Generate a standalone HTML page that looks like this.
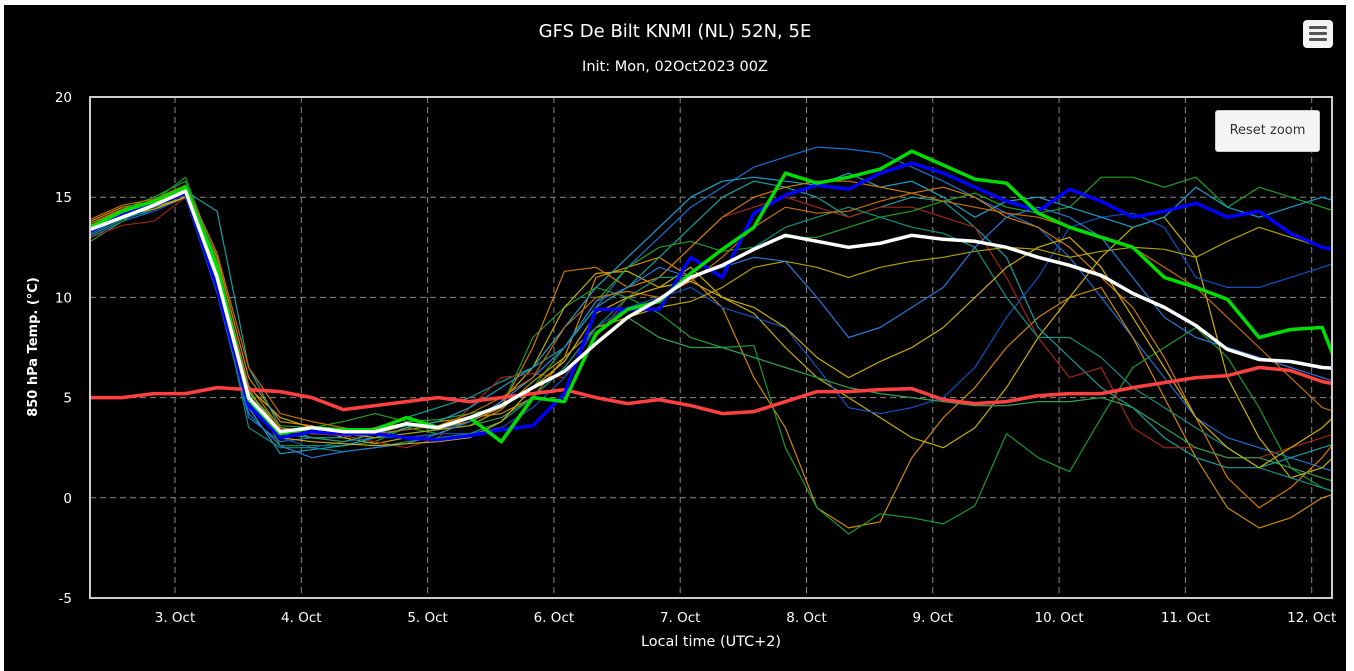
<!DOCTYPE html>
<html><head><meta charset="utf-8"><style>
body{margin:0;width:1354px;height:671px;background:#fff;overflow:hidden;font-family:"DejaVu Sans","Liberation Sans",sans-serif}
#wrap{position:absolute;left:4px;top:5px;width:1342px;height:666px;background:#000}
#menu{position:absolute;left:1303px;top:20px;width:30px;height:28px;background:#f4f4f4;border-radius:4px}
#menu i{position:absolute;left:6px;width:18px;height:3px;background:#555;border-radius:1px}
#reset{position:absolute;left:1215px;top:110px;width:105px;height:42px;background:#f4f4f4;border:1px solid #ccc;border-radius:3px;font-size:13px;color:#333;text-align:center;line-height:40px;box-sizing:border-box}
</style></head><body>
<div id="wrap"></div>
<svg id="svg" width="1354" height="671" style="position:absolute;left:0;top:0"></svg>
<div id="menu"><i style="top:6px"></i><i style="top:12px"></i><i style="top:18px"></i></div>
<div id="reset">Reset zoom</div>
<script>
const xTicks=["3. Oct","4. Oct","5. Oct","6. Oct","7. Oct","8. Oct","9. Oct","10. Oct","11. Oct","12. Oct"];
const yTicks=[-5,0,5,10,15,20];
const startHour=8, stepHours=6;
const meanSeries=[13.4,14.0,14.6,15.3,11.0,5.0,3.3,3.5,3.3,3.3,3.7,3.5,4.0,4.6,5.5,6.3,7.7,9.0,9.9,11.0,11.6,12.4,13.1,12.8,12.5,12.7,13.1,12.9,12.8,12.5,12.0,11.6,11.1,10.2,9.5,8.6,7.4,6.9,6.8,6.5,6.4];
const controlSeries=[13.5,14.3,14.8,15.5,11.5,4.9,3.2,3.5,3.4,3.4,4.0,3.5,4.0,2.8,5.0,4.8,8.2,9.4,9.8,11.2,12.4,13.5,16.2,15.7,16.0,16.4,17.3,16.6,15.9,15.7,14.2,13.5,13.0,12.5,11.0,10.5,9.9,8.0,8.4,8.5,4.5];
const operSeries=[13.3,14.2,14.6,15.2,10.5,4.6,3.0,3.3,3.2,3.2,3.0,2.9,3.1,3.4,3.6,5.2,9.4,9.4,9.4,12.0,11.0,14.2,15.1,15.6,15.4,16.2,16.7,16.2,15.5,14.8,14.3,15.4,14.8,14.0,14.3,14.7,14.0,14.3,13.2,12.5,12.2];
const climSeries=[5.0,5.0,5.2,5.2,5.5,5.4,5.3,5.0,4.4,4.6,4.8,5.0,4.8,5.0,5.2,5.4,5.0,4.7,4.9,4.6,4.2,4.3,4.8,5.3,5.3,5.4,5.45,4.9,4.7,4.8,5.1,5.2,5.2,5.5,5.75,6.0,6.1,6.5,6.35,5.8,5.5];
const m1=[13.0,13.8,14.3,15.0,10.2,4.0,2.8,3.0,2.8,3.0,3.2,3.4,3.8,4.8,6.0,7.5,9.5,11.5,13.0,14.5,15.5,16.5,17.0,17.5,17.4,17.2,16.5,15.8,15.0,14.2,13.5,12.0,10.0,8.0,6.0,4.0,3.0,2.5,2.0,1.5,1.0];
const m2=[13.8,14.5,14.8,15.5,12.0,6.0,3.8,3.6,3.2,3.0,3.5,3.8,4.0,4.2,5.0,7.0,11.0,11.5,12.0,11.0,9.5,6.0,3.5,-0.5,-1.5,-1.2,2.0,4.0,5.5,7.5,9.0,10.0,10.5,8.0,5.0,2.0,-0.5,-1.5,-1.0,0.0,0.5];
const m3=[12.8,13.8,14.8,16.0,11.8,5.5,2.6,2.6,2.6,2.8,3.5,3.2,3.8,4.5,8.0,9.5,10.5,10.0,9.2,8.0,7.5,7.6,2.5,-0.5,-1.8,-0.8,-1.0,-1.3,-0.4,3.2,2.0,1.3,4.0,6.5,7.5,8.5,7.0,4.5,1.5,0.5,0.0];
const m4=[13.5,14.2,14.5,15.0,11.5,5.5,4.0,3.5,3.0,2.7,3.0,3.2,3.8,4.8,6.5,9.5,11.2,11.3,10.5,11.5,10.0,9.2,7.5,6.0,5.0,4.0,3.0,2.5,3.5,5.5,8.0,10.0,12.0,13.5,14.0,12.0,6.0,3.0,1.0,1.5,3.0];
const m5=[13.2,14.0,14.5,15.3,14.3,6.5,3.5,3.0,3.0,3.5,4.0,4.5,5.0,5.8,6.5,7.5,9.5,10.5,12.0,13.5,15.0,15.8,15.5,15.0,14.0,14.5,15.0,14.8,13.5,12.0,8.5,7.0,5.5,4.5,3.0,2.0,1.5,1.5,2.0,2.5,3.0];
const m6=[13.0,13.6,13.8,15.0,11.0,5.0,3.3,3.2,3.1,2.8,2.5,3.0,4.5,6.0,6.2,6.0,8.0,10.0,11.0,12.5,14.0,14.5,15.0,14.5,14.0,14.5,14.5,14.0,13.5,11.0,8.0,6.0,6.5,3.5,2.5,2.5,2.0,2.0,2.5,3.0,3.5];
const m7=[13.4,14.0,14.3,15.0,10.8,4.8,3.0,2.5,2.8,3.0,3.0,3.2,3.2,3.5,4.5,6.0,8.5,9.5,10.0,10.5,9.5,9.0,8.5,6.5,4.5,4.2,4.5,5.0,6.5,9.0,11.0,13.5,14.0,14.2,13.5,11.0,10.5,10.5,11.0,11.5,12.0];
const m8=[13.6,14.4,15.0,15.8,11.7,5.2,3.6,3.5,3.8,4.2,3.8,3.9,4.2,4.5,5.5,7.5,9.8,11.5,12.5,12.8,12.3,12.5,13.0,13.0,13.5,14.0,14.3,14.8,15.2,14.5,14.2,14.5,16.0,16.0,15.5,16.0,14.5,15.5,15.0,14.5,14.0];
const m9=[13.3,14.1,14.6,15.4,11.2,4.5,2.2,2.4,2.6,3.0,3.5,3.8,4.5,5.5,6.5,8.5,10.5,12.0,13.5,15.0,15.8,16.0,15.8,15.6,16.2,15.5,15.8,15.0,14.0,14.8,15.0,14.5,14.0,13.5,14.0,15.5,14.5,14.0,14.5,15.0,14.5];
const m10=[13.7,14.4,14.7,15.4,11.6,5.6,3.5,3.3,3.2,3.5,3.7,3.5,3.8,4.5,7.5,11.3,11.5,10.5,11.0,12.5,14.0,15.0,15.5,15.8,15.8,15.5,15.2,15.5,15.0,14.0,13.5,12.5,11.0,9.5,7.0,4.0,1.0,-0.5,0.5,2.0,4.0];
const m11=[13.5,14.2,14.5,15.2,11.4,5.4,3.2,3.0,2.8,3.2,3.6,3.4,3.6,4.0,5.0,6.5,8.5,9.0,8.0,7.5,7.5,7.0,6.5,6.0,5.5,5.2,5.0,4.8,4.6,4.6,4.8,4.8,5.0,4.5,3.5,2.5,2.0,2.0,1.5,1.0,0.5];
const m12=[13.6,14.2,14.6,15.1,11.2,5.3,3.4,3.2,3.2,3.0,3.2,3.4,3.6,4.4,5.8,7.0,8.5,9.0,9.5,9.8,10.5,11.5,11.8,11.5,11.0,11.5,11.8,12.0,12.3,12.5,12.4,12.0,12.3,12.5,12.4,12.0,12.8,13.5,13.0,12.5,12.0];
const m13=[13.1,13.9,14.4,15.0,10.9,3.5,2.5,2.5,2.3,2.5,2.8,3.0,3.2,3.8,5.0,6.5,8.5,10.0,11.0,11.0,11.5,12.5,13.5,14.0,14.5,14.0,13.5,13.2,12.5,10.0,8.0,8.0,7.0,5.5,4.5,3.5,2.5,1.5,1.0,0.5,0.0];
const m14=[13.2,14.0,14.5,15.2,11.0,4.2,2.6,2.0,2.3,2.5,2.7,3.2,3.8,4.8,6.0,7.5,9.8,10.5,11.5,11.0,11.5,12.0,11.8,10.0,8.0,8.5,9.5,10.5,12.5,14.0,14.5,14.0,13.0,11.0,9.0,8.0,7.5,7.0,6.5,6.0,5.5];
const m15=[13.9,14.6,14.9,15.6,12.2,6.5,4.2,3.8,3.5,3.2,3.4,3.6,4.2,5.0,6.0,8.5,10.0,10.3,10.0,10.8,12.0,13.5,14.5,14.2,14.3,14.8,15.2,14.8,14.5,14.2,14.0,13.5,13.0,12.5,11.5,10.5,9.0,7.5,6.0,4.5,4.0];
const m16=[13.4,14.1,14.4,15.0,11.3,5.0,3.0,2.8,2.7,2.6,2.7,2.8,3.0,3.8,5.5,6.8,9.2,10.0,10.5,10.8,10.0,9.5,8.5,7.0,6.0,6.8,7.5,8.5,10.0,11.5,12.5,13.0,11.5,9.0,6.5,4.0,2.5,1.5,2.5,3.5,5.0];
const members=[m1,m2,m3,m4,m5,m6,m7,m8,m9,m10,m11,m12,m13,m14,m15,m16];
const memberColors=["#1a6fd0","#d08a00","#189a30","#c8b000","#14a0a0","#a02810","#1050c0","#20a020","#1aa0c8","#d07a00","#30a050","#b0a000","#109080","#2878d8","#c07000","#d0b000"];

const NS="http://www.w3.org/2000/svg";
const svg=document.getElementById('svg');
const L=90,R=1332,T=97,B=598,yMin=-5,yMax=20;
const dayPx=126.3, day3=175;
const FONT='DejaVu Sans, Liberation Sans, sans-serif';
function xs(h){return day3+(h-24)*dayPx/24;}
function ys(v){return B-(v-yMin)*(B-T)/(yMax-yMin);}
function mk(tag,attrs){const e=document.createElementNS(NS,tag);for(const k in attrs)e.setAttribute(k,attrs[k]);svg.appendChild(e);return e;}
function txt(x,y,s,size,anchor,extra){const t=mk('text',Object.assign({x:x,y:y,fill:'#fff','font-size':size,'text-anchor':anchor,'font-family':FONT},extra||{}));t.textContent=s;return t;}

const defs=document.createElementNS(NS,'defs');defs.innerHTML='<clipPath id="pc"><rect x="'+L+'" y="'+T+'" width="'+(R-L)+'" height="'+(B-T)+'"/></clipPath>';svg.appendChild(defs);

yTicks.forEach(v=>{
  if(v>yMin&&v<yMax){const g=mk('line',{x1:L,x2:R,y1:ys(v),y2:ys(v),stroke:'#888','stroke-dasharray':'6,4','stroke-width':1});
  
  }
  const t=txt(72,ys(v)+5,String(v),13.5,'end');
  
  
});
xTicks.forEach((s,i)=>{
  const x=xs(24*(i+1));
  const g=mk('line',{x1:x,x2:x,y1:T,y2:B,stroke:'#888','stroke-dasharray':'6,4','stroke-width':1});
  
  
  const t=txt(x,622,s,13.5,'middle');
  
  
});

function series(arr,color,w,name){
  const pts=arr.map((v,i)=>xs(startHour+i*stepHours).toFixed(1)+','+ys(v).toFixed(1)).join(' ');
  const p=mk('polyline',{points:pts,fill:'none',stroke:color,'stroke-width':w,'clip-path':'url(#pc)','stroke-linejoin':'round'});
  
  
}
members.forEach((m,i)=>series(m,memberColors[i],1.2,'ensemble-member-line'));
series(climSeries,'#ff4040',3.5,'climatology-line');
series(operSeries,'#0000ff',3.5,'operational-run-line');
series(controlSeries,'#00dd00',3.5,'control-run-line');
series(meanSeries,'#ffffff',3.5,'ensemble-mean-line');

const bd=mk('rect',{x:L,y:T,width:R-L,height:B-T,fill:'none',stroke:'#ccc','stroke-width':2});



let t=txt(675,37,'GFS De Bilt KNMI (NL) 52N, 5E',18,'middle');


t=txt(675,71,'Init: Mon, 02Oct2023 00Z',14.5,'middle');


t=txt(711,646,'Local time (UTC+2)',14.4,'middle');


t=txt(0,0,'850 hPa Temp. (°C)',13,'middle',{transform:'translate(37,347) rotate(-90)','font-weight':'bold'});


</script>
</body></html>
